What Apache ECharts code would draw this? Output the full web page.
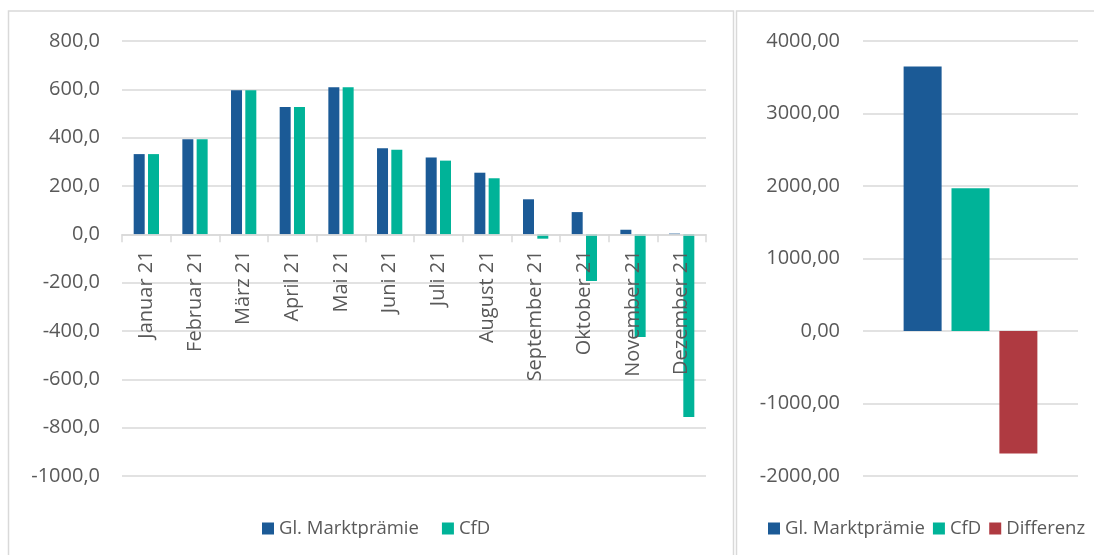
<!DOCTYPE html>
<html>
<head>
<meta charset="utf-8">
<script src="https://cdn.jsdelivr.net/npm/echarts@6/dist/echarts.min.js"></script>
<style>
html,body{margin:0;padding:0;background:#fff;}
#c{width:1094px;height:555px;}
</style>
</head>
<body>
<div id="c"></div>
<script>
// ---- data ----
const months = ['Januar 21','Februar 21','März 21','April 21','Mai 21','Juni 21','Juli 21','August 21','September 21','Oktober 21','November 21','Dezember 21'];
const marktpraemie = [332, 393, 596, 527, 609, 356, 318, 255, 145, 92, 19, 3];
const cfd = [332, 393, 596, 527, 609, 350, 305, 232, -18, -193, -425, -756];
const summaryNames = ['Gl. Marktprämie', 'CfD', 'Differenz'];
const summaryValues = [3650, 1970, -1690];
const leftTicks = { min: -1000, max: 800, step: 200 };
const rightTicks = { min: -2000, max: 4000, step: 1000 };

const C_BLUE = '#1B5A96', C_GREEN = '#00B398', C_RED = '#AF3A41';
const TXT = '#595959', GRID = '#D9D9D9';
const FONT = '"Open Sans", "Noto Sans", sans-serif';

const chart = echarts.init(document.getElementById('c'), null, {renderer: 'canvas'});

const comma = (v, d) => v.toFixed(d).replace('.', ',');

// layout
const H = 555;
const GRID_TOP = 41, GRID_BOTTOM = 79;
const plotH = H - GRID_TOP - GRID_BOTTOM;
// place the left category axis (with its labels) at the zero line of the value scale
const zeroOffset = -plotH * (0 - leftTicks.min) / (leftTicks.max - leftTicks.min);

const option = {
  animation: false,
  backgroundColor: '#fff',
  textStyle: { fontFamily: FONT },
  graphic: [
    { type: 'rect', shape: { x: 8.5, y: 11, width: 725, height: 600 }, style: { fill: 'none', stroke: GRID, lineWidth: 1.5 }, silent: true, z: -10 },
    { type: 'rect', shape: { x: 736.5, y: 11, width: 420, height: 600 }, style: { fill: 'none', stroke: GRID, lineWidth: 1.5 }, silent: true, z: -10 }
  ],
  legend: [
    {
      left: 257, top: 514, itemWidth: 12, itemHeight: 12, itemGap: 23,
      icon: 'rect',
      textStyle: { color: TXT, fontSize: 18.5, fontFamily: FONT },
      data: ['Gl. Marktprämie', 'CfD']
    },
    {
      left: 763, top: 514, width: 340, itemWidth: 12, itemHeight: 12, itemGap: 8,
      icon: 'rect',
      textStyle: { color: TXT, fontSize: 18.5, fontFamily: FONT },
      data: summaryNames
    }
  ],
  grid: [
    { left: 122, right: 388, top: GRID_TOP, bottom: GRID_BOTTOM, containLabel: false, outerBoundsMode: 'none' },
    { left: 863, width: 215, top: GRID_TOP, bottom: GRID_BOTTOM, containLabel: false, outerBoundsMode: 'none' }
  ],
  xAxis: [
    {
      type: 'category', gridIndex: 0, data: months, z: 10,
      position: 'bottom', offset: zeroOffset,
      axisLine: { show: true, onZero: false, lineStyle: { color: GRID, width: 1.5 } },
      axisTick: { show: true, length: 8, lineStyle: { color: GRID, width: 1.5 } },
      axisLabel: { rotate: 90, margin: 16, color: TXT, fontSize: 20, fontFamily: FONT, interval: 0 }
    },
    {
      type: 'category', gridIndex: 1, data: [''],
      axisLine: { show: false }, axisTick: { show: false }, axisLabel: { show: false }
    }
  ],
  yAxis: [
    {
      type: 'value', gridIndex: 0, min: leftTicks.min, max: leftTicks.max, interval: leftTicks.step,
      axisLine: { show: false }, axisTick: { show: false },
      splitLine: { lineStyle: { color: GRID, width: 1.5 } },
      axisLabel: { color: TXT, fontSize: 20, fontFamily: FONT, margin: 22, formatter: v => comma(v, 1) }
    },
    {
      type: 'value', gridIndex: 1, min: rightTicks.min, max: rightTicks.max, interval: rightTicks.step,
      axisLine: { show: false }, axisTick: { show: false },
      splitLine: { lineStyle: { color: GRID, width: 1.5 } },
      axisLabel: { color: TXT, fontSize: 20, fontFamily: FONT, margin: 23, formatter: v => comma(v, 2) }
    }
  ],
  series: [
    { name: 'Gl. Marktprämie', type: 'bar', xAxisIndex: 0, yAxisIndex: 0, data: marktpraemie,
      barWidth: 11, barGap: '30%', itemStyle: { color: C_BLUE } },
    { name: 'CfD', type: 'bar', xAxisIndex: 0, yAxisIndex: 0, data: cfd,
      barWidth: 11, barGap: '30%', itemStyle: { color: C_GREEN } },
    { name: summaryNames[0], type: 'bar', xAxisIndex: 1, yAxisIndex: 1, data: [summaryValues[0]],
      barWidth: 38, barGap: '26%', itemStyle: { color: C_BLUE } },
    { name: summaryNames[1], type: 'bar', xAxisIndex: 1, yAxisIndex: 1, data: [summaryValues[1]],
      barWidth: 38, barGap: '26%', itemStyle: { color: C_GREEN } },
    { name: summaryNames[2], type: 'bar', xAxisIndex: 1, yAxisIndex: 1, data: [summaryValues[2]],
      barWidth: 38, barGap: '26%', itemStyle: { color: C_RED } }
  ]
};
chart.setOption(option);
</script>
</body>
</html>
